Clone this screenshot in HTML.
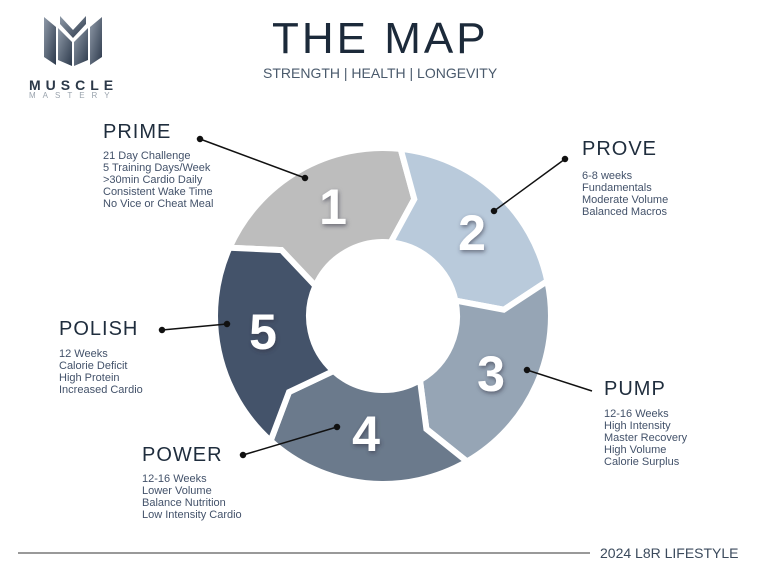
<!DOCTYPE html>
<html><head><style>
body{margin:0;width:768px;height:576px;background:#fff;position:relative;overflow:hidden;font-family:"Liberation Sans",sans-serif;color:#1f2d3d}
.t{position:absolute;white-space:nowrap}
.h{font-size:20px;letter-spacing:1px;color:#1f2d3d}
.b{font-size:11px;line-height:12px;color:#43526a}
</style></head><body>
<div class="t" style="left:272px;top:14px;font-size:44px;letter-spacing:3px;color:#1c2a3a;font-family:'Liberation Sans',sans-serif">THE MAP</div>
<div class="t" style="left:263px;top:65px;font-size:14px;color:#4a5a6c">STRENGTH | HEALTH | LONGEVITY</div>
<svg style="position:absolute;left:0;top:0" width="768" height="576">
<defs><linearGradient id="lg" x1="0" y1="0" x2="1" y2="1"><stop offset="0" stop-color="#8f9aa8"/><stop offset="1" stop-color="#2d3a4c"/></linearGradient>
<filter id="sh"><feDropShadow dx="1" dy="2" stdDeviation="2" flood-color="#334" flood-opacity="0.6"/></filter></defs>
<g fill="url(#lg)">
<polygon points="44,17 56,27 56,65 44,57"/><polygon points="58,28 72,42 72,66 58,60"/><polygon points="74,42 88,28 88,60 74,66"/><polygon points="90,27 102,17 102,57 90,65"/>
<polygon points="60,16 73,30 86,16 86,24 73,38 60,24"/>
</g>
<text x="29" y="90" font-size="14" font-weight="bold" letter-spacing="5" fill="#2b3848" font-family="Liberation Sans">MUSCLE</text>
<text x="29" y="98" font-size="8" letter-spacing="7" fill="#9aa3ad" font-family="Liberation Sans">MASTERY</text>
<g id="ring" stroke="#fff" stroke-width="6" stroke-linejoin="miter"></g>
<g font-family="Liberation Sans" font-weight="bold" font-size="50" fill="#fff" filter="url(#sh)" text-anchor="middle">
<text x="333" y="224">1</text><text x="472" y="250">2</text><text x="491" y="391">3</text><text x="366" y="451">4</text><text x="263" y="349">5</text>
</g>
<g stroke="#111" stroke-width="1.5" fill="#111">
<line x1="200" y1="139" x2="305" y2="178"/><circle cx="200" cy="139" r="2.5"/><circle cx="305" cy="178" r="2.5"/>
<line x1="565" y1="159" x2="494" y2="211"/><circle cx="565" cy="159" r="2.5"/><circle cx="494" cy="211" r="2.5"/>
<line x1="162" y1="330" x2="227" y2="324"/><circle cx="162" cy="330" r="2.5"/><circle cx="227" cy="324" r="2.5"/>
<line x1="527" y1="370" x2="592" y2="391"/><circle cx="527" cy="370" r="2.5"/>
<line x1="243" y1="455" x2="337" y2="427"/><circle cx="243" cy="455" r="2.5"/><circle cx="337" cy="427" r="2.5"/>
</g>
<line x1="18" y1="553" x2="590" y2="553" stroke="#333" stroke-width="1"/>
</svg>
<script>
(function(){var cx=383,cy=316,R=168,r=74,m=121,d=9;
function p(a,rad){a=a*Math.PI/180;return (cx+rad*Math.sin(a)).toFixed(1)+","+(cy-rad*Math.cos(a)).toFixed(1)}
var cols=["#bdbdbd","#b9cadb","#96a5b5","#6b7a8c","#44536a"],g=document.getElementById("ring"),s="";
for(var i=0;i<5;i++){var a1=-66+72*i,a2=a1+72;
s+='<path fill="'+cols[i]+'" d="M'+p(a1,R)+' A'+R+','+R+' 0 0 1 '+p(a2,R)+' L'+p(a2+d,m)+' L'+p(a2,r)+' A'+r+','+r+' 0 0 0 '+p(a1,r)+' L'+p(a1+d,m)+' Z"/>';}
g.innerHTML=s;})();
</script>
<div class="t h" style="left:103px;top:121px">PRIME</div>
<div class="t b" style="left:103px;top:150px">21 Day Challenge<br>5 Training Days/Week<br>&gt;30min Cardio Daily<br>Consistent Wake Time<br>No Vice or Cheat Meal</div>
<div class="t h" style="left:582px;top:138px">PROVE</div>
<div class="t b" style="left:582px;top:170px">6-8 weeks<br>Fundamentals<br>Moderate Volume<br>Balanced Macros</div>
<div class="t h" style="left:59px;top:318px">POLISH</div>
<div class="t b" style="left:59px;top:348px">12 Weeks<br>Calorie Deficit<br>High Protein<br>Increased Cardio</div>
<div class="t h" style="left:604px;top:378px">PUMP</div>
<div class="t b" style="left:604px;top:408px">12-16 Weeks<br>High Intensity<br>Master Recovery<br>High Volume<br>Calorie Surplus</div>
<div class="t h" style="left:142px;top:444px">POWER</div>
<div class="t b" style="left:142px;top:473px">12-16 Weeks<br>Lower Volume<br>Balance Nutrition<br>Low Intensity Cardio</div>
<div class="t" style="left:600px;top:545px;font-size:14px;color:#3b4a5c">2024 L8R LIFESTYLE</div>
</body></html>
